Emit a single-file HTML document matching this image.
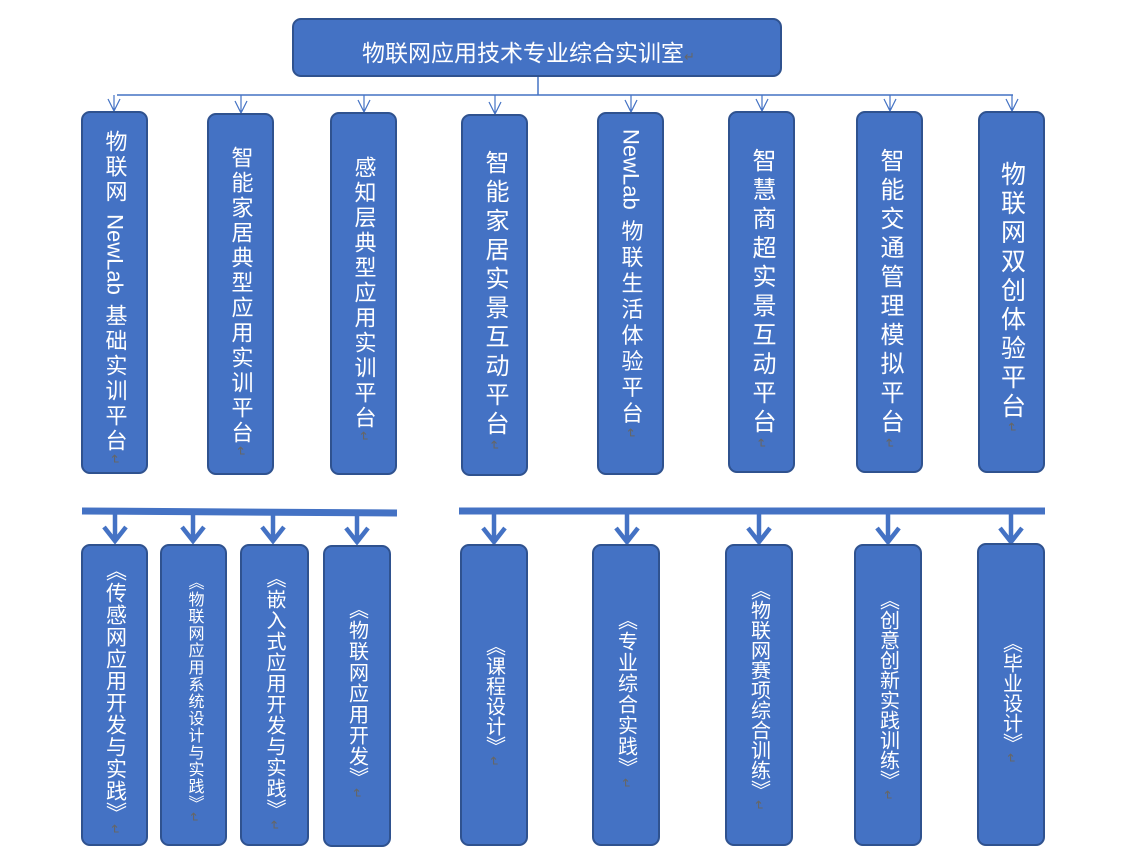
<!DOCTYPE html>
<html><head><meta charset="utf-8"><style>
body{margin:0;width:1129px;height:868px;background:#fff;position:relative;overflow:hidden;font-family:"Liberation Sans","Noto Sans CJK SC",sans-serif;}
.b{position:absolute;background:#4472C4;border:2px solid #2F528F;border-radius:9px;box-sizing:border-box;}
.t{position:absolute;left:0;right:0;display:flex;justify-content:center;}
.v{writing-mode:vertical-rl;color:#fff;white-space:nowrap;}
.r{color:#666;font-size:13px;}
.l{letter-spacing:0;}
svg{position:absolute;left:0;top:0;}
</style></head><body>
<svg width="1129" height="868">
<g stroke="#4472C4" fill="none" stroke-width="1.5">
<line x1="538" y1="77" x2="538" y2="95"/>
<line x1="117" y1="95" x2="1013" y2="95"/>
</g>
<g stroke="#4472C4" fill="none" stroke-width="1.2">
<path d="M114 95V111M108 99L114 111L120 99"/>
<path d="M241 95V113M235 101L241 113L247 101"/>
<path d="M364 95V112M358 100L364 112L370 100"/>
<path d="M495 95V114M489 102L495 114L501 102"/>
<path d="M631 95V112M625 100L631 112L637 100"/>
<path d="M762 95V111M756 99L762 111L768 99"/>
<path d="M890 95V111M884 99L890 111L896 99"/>
<path d="M1012 95V111M1006 99L1012 111L1018 99"/>
</g>
<g stroke="#4472C4" fill="none" stroke-width="7">
<line x1="82" y1="511" x2="397" y2="513"/>
<line x1="459" y1="511" x2="1045" y2="511"/>
</g>
<g stroke="#4472C4" fill="none" stroke-width="4.5">
<path d="M115 514V540M104 527L115 541L126 527"/>
<path d="M193 514V540M182 527L193 541L204 527"/>
<path d="M273 514V540M262 527L273 541L284 527"/>
<path d="M357 514V541M346 528L357 542L368 528"/>
<path d="M494 514V541M483 528L494 542L505 528"/>
<path d="M627 514V541M616 528L627 542L638 528"/>
<path d="M759 514V541M748 528L759 542L770 528"/>
<path d="M888 514V541M877 528L888 542L899 528"/>
<path d="M1011 514V541M1000 528L1011 542L1022 528"/>
</g>
</svg>

<div class="b" style="left:292px;top:18px;width:490px;height:59px;"><div style="position:absolute;left:68px;top:14px;color:#fff;font-size:23px;">物联网应用技术专业综合实训室<span class="r">↵</span></div></div>

<div class="b" style="left:81px;top:111px;width:67px;height:363px;"><div class="t" style="top:17px"><div class="v" style="font-size:22px;letter-spacing:3px;">物联网 <span class="l">NewLab</span> 基础实训平台<span class="r">↵</span></div></div></div>
<div class="b" style="left:207px;top:113px;width:67px;height:362px;"><div class="t" style="top:31px"><div class="v" style="font-size:22px;letter-spacing:3px;">智能家居典型应用实训平台<span class="r">↵</span></div></div></div>
<div class="b" style="left:330px;top:112px;width:67px;height:363px;"><div class="t" style="top:42px"><div class="v" style="font-size:22px;letter-spacing:3px;">感知层典型应用实训平台<span class="r">↵</span></div></div></div>
<div class="b" style="left:461px;top:114px;width:67px;height:362px;"><div class="t" style="top:34px"><div class="v" style="font-size:24px;letter-spacing:5px;">智能家居实景互动平台<span class="r">↵</span></div></div></div>
<div class="b" style="left:597px;top:112px;width:67px;height:363px;"><div class="t" style="top:15px"><div class="v" style="font-size:22px;letter-spacing:4px;"><span class="l">NewLab</span> 物联生活体验平台<span class="r">↵</span></div></div></div>
<div class="b" style="left:728px;top:111px;width:67px;height:362px;"><div class="t" style="top:35px"><div class="v" style="font-size:24px;letter-spacing:5px;">智慧商超实景互动平台<span class="r">↵</span></div></div></div>
<div class="b" style="left:856px;top:111px;width:67px;height:362px;"><div class="t" style="top:35px"><div class="v" style="font-size:24px;letter-spacing:5px;">智能交通管理模拟平台<span class="r">↵</span></div></div></div>
<div class="b" style="left:978px;top:111px;width:67px;height:362px;"><div class="t" style="top:48px"><div class="v" style="font-size:25px;letter-spacing:4px;">物联网双创体验平台<span class="r">↵</span></div></div></div>

<div class="b" style="left:81px;top:544px;width:67px;height:302px;"><div class="t" style="top:14px"><div class="v" style="font-size:21px;letter-spacing:1px;">《传感网应用开发与实践》<span class="r">↵</span></div></div></div>
<div class="b" style="left:160px;top:544px;width:67px;height:302px;"><div class="t" style="top:28px"><div class="v" style="font-size:16px;letter-spacing:1px;">《物联网应用系统设计与实践》<span class="r">↵</span></div></div></div>
<div class="b" style="left:240px;top:544px;width:69px;height:302px;"><div class="t" style="top:22px"><div class="v" style="font-size:20px;letter-spacing:1px;">《嵌入式应用开发与实践》<span class="r">↵</span></div></div></div>
<div class="b" style="left:323px;top:545px;width:68px;height:302px;"><div class="t" style="top:52px"><div class="v" style="font-size:20px;letter-spacing:1px;">《物联网应用开发》<span class="r">↵</span></div></div></div>
<div class="b" style="left:460px;top:544px;width:68px;height:302px;"><div class="t" style="top:90px"><div class="v" style="font-size:20px;letter-spacing:0px;">《课程设计》<span class="r">↵</span></div></div></div>
<div class="b" style="left:592px;top:544px;width:68px;height:302px;"><div class="t" style="top:64px"><div class="v" style="font-size:20px;letter-spacing:1px;">《专业综合实践》<span class="r">↵</span></div></div></div>
<div class="b" style="left:725px;top:544px;width:68px;height:302px;"><div class="t" style="top:34px"><div class="v" style="font-size:20px;letter-spacing:0px;">《物联网赛项综合训练》<span class="r">↵</span></div></div></div>
<div class="b" style="left:854px;top:544px;width:68px;height:302px;"><div class="t" style="top:44px"><div class="v" style="font-size:20px;letter-spacing:0px;">《创意创新实践训练》<span class="r">↵</span></div></div></div>
<div class="b" style="left:977px;top:543px;width:68px;height:303px;"><div class="t" style="top:88px"><div class="v" style="font-size:20px;letter-spacing:0px;">《毕业设计》<span class="r">↵</span></div></div></div>
</body></html>
